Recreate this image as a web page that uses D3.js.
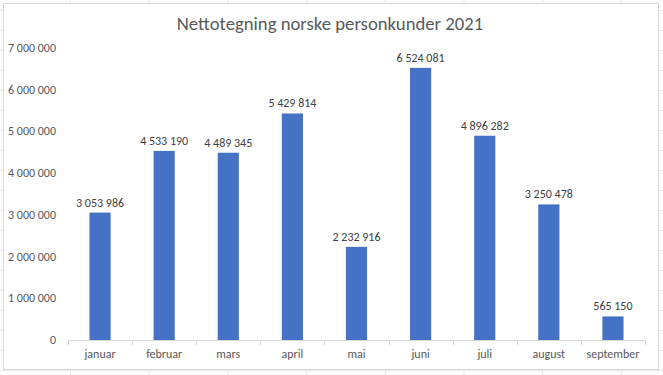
<!DOCTYPE html>
<html><head><meta charset="utf-8">
<script src="https://cdn.jsdelivr.net/npm/d3@7"></script>
<style>body{margin:0;background:#fff;}svg{display:block;font-family:Carlito,"Open Sans","Liberation Sans",sans-serif;}</style>
</head><body>
<svg id="c" width="663" height="375"></svg>
<script>
const months = ["januar","februar","mars","april","mai","juni","juli","august","september"];
const values = [3053986,4533190,4489345,5429814,2232916,6524081,4896282,3250478,565150];
const yTicks = [0,1000000,2000000,3000000,4000000,5000000,6000000,7000000];
const title = "Nettotegning norske personkunder 2021";

const svg = d3.select("#c");
const fmt = v => d3.format(",")(v).replace(/,/g, " ");

// faint spreadsheet grid behind chart
const g0 = svg.append("g").attr("stroke","#e8e8e8").attr("stroke-width",1);
d3.range(0,8).forEach(i=>{const x=70.5+i*78.7;g0.append("line").attr("x1",x).attr("x2",x).attr("y1",0).attr("y2",375);});
d3.range(0,19).forEach(i=>{const y=10.5+i*20;g0.append("line").attr("x1",0).attr("x2",663).attr("y1",y).attr("y2",y);});

svg.append("rect").attr("x",3.5).attr("y",3.5).attr("width",655).attr("height",366)
  .attr("fill","#fff").attr("stroke","#d9d9d9");

const x = d3.scaleBand().domain(months).range([68,645]).paddingInner(0.67).paddingOuter(0.335);
const y = d3.scaleLinear().domain([0,7000000]).range([340,48]);

svg.append("text").attr("x",330).attr("y",30).attr("text-anchor","middle")
  .attr("font-size",18.7).attr("fill","#595959").text(title);

// y axis labels
svg.append("g").selectAll("text").data(yTicks).join("text")
  .attr("x",56).attr("y",d=>y(d)+4).attr("text-anchor","end")
  .attr("font-size",12).attr("fill","#595959").text(d=>fmt(d));

// bars
svg.append("g").selectAll("rect").data(values).join("rect")
  .attr("x",(d,i)=>x(months[i])).attr("y",d=>y(d))
  .attr("width",x.bandwidth()).attr("height",d=>y(0)-y(d)).attr("fill","#4472c4");

// data labels
svg.append("g").selectAll("text").data(values).join("text")
  .attr("x",(d,i)=>x(months[i])+x.bandwidth()/2).attr("y",d=>y(d)-6)
  .attr("text-anchor","middle").attr("font-size",12).attr("fill","#404040").text(d=>fmt(d));

// x axis
const ax = svg.append("g");
ax.append("line").attr("x1",68).attr("x2",645).attr("y1",340.5).attr("y2",340.5).attr("stroke","#d9d9d9");
const bounds = d3.range(0,months.length+1).map(i=>68+i*(577/months.length));
ax.selectAll("line.t").data(bounds).join("line").attr("class","t")
  .attr("x1",d=>Math.round(d)+0.5).attr("x2",d=>Math.round(d)+0.5).attr("y1",340).attr("y2",345).attr("stroke","#d9d9d9");
ax.selectAll("text").data(months).join("text")
  .attr("x",d=>x(d)+x.bandwidth()/2).attr("y",358).attr("text-anchor","middle")
  .attr("font-size",12).attr("fill","#595959").text(d=>d);
</script>
</body></html>
